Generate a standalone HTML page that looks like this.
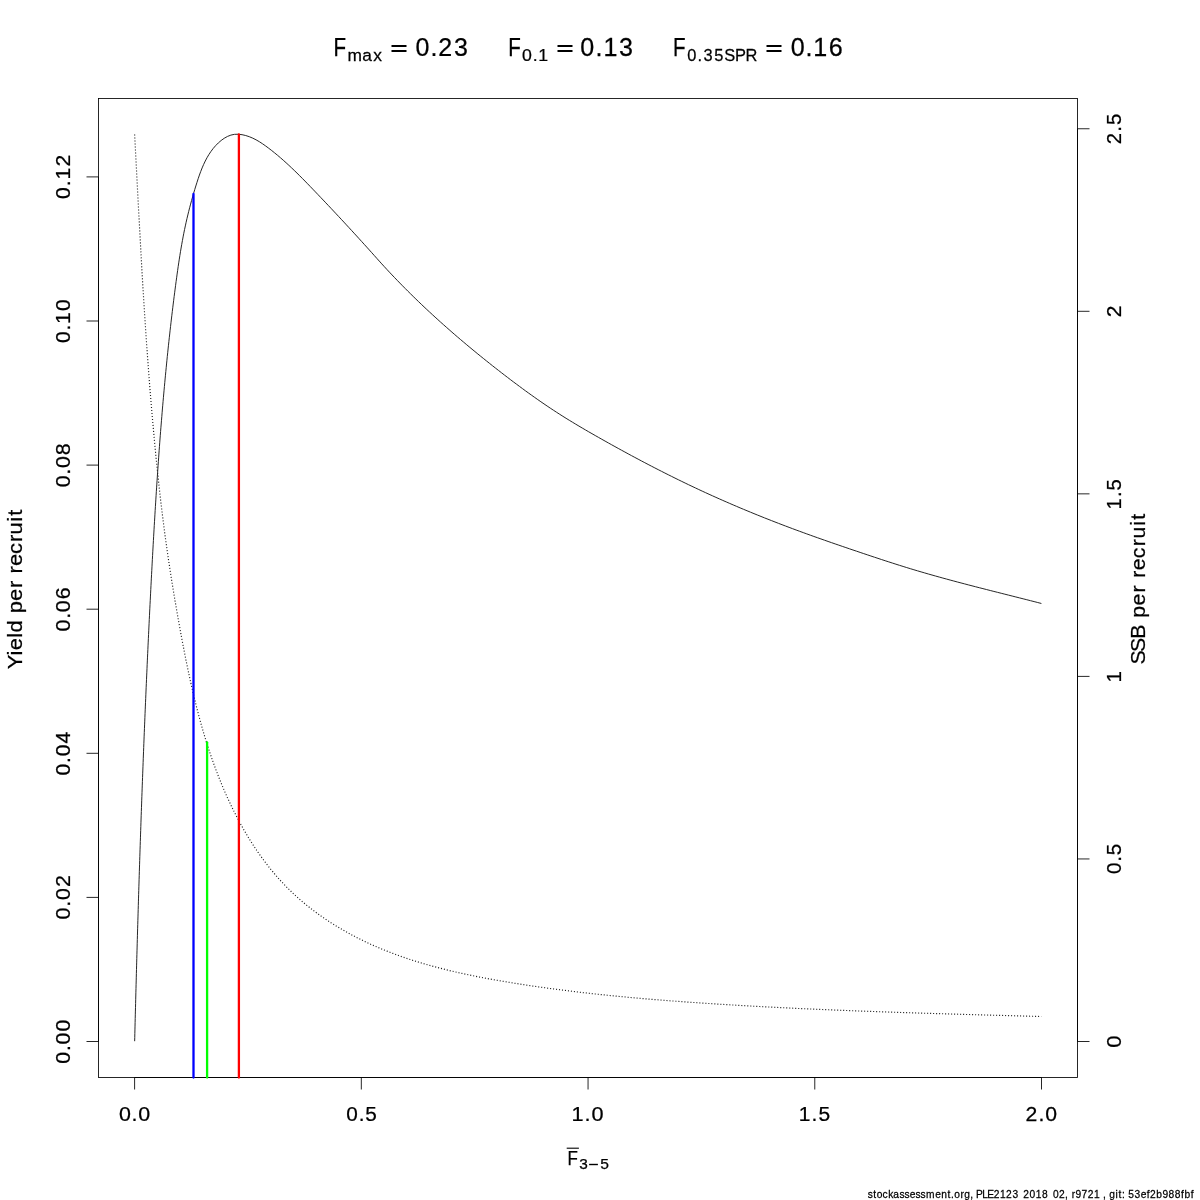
<!DOCTYPE html>
<html><head><meta charset="utf-8"><style>
html,body{margin:0;padding:0;background:#fff;overflow:hidden;}
svg{display:block;will-change:transform;}
text{font-family:"Liberation Sans", sans-serif;fill:#000;font-kerning:none;stroke:#000;stroke-width:0.25px;}
</style></head><body>
<svg width="1200" height="1200" viewBox="0 0 1200 1200">
<rect x="0" y="0" width="1200" height="1200" fill="#fff"/>
<rect x="98.5" y="98.5" width="979" height="979" fill="none" stroke="#000" stroke-width="0.85"/>
<line x1="134.60" y1="1077.5" x2="1041.50" y2="1077.5" stroke="#000" stroke-width="0.85"/>
<line x1="98.5" y1="1041.50" x2="98.5" y2="176.90" stroke="#000" stroke-width="0.85"/>
<line x1="1077.5" y1="1041.50" x2="1077.5" y2="128.75" stroke="#000" stroke-width="0.85"/>
<line x1="134.60" y1="1077.5" x2="134.60" y2="1089.5" stroke="#000" stroke-width="0.85"/>
<line x1="361.32" y1="1077.5" x2="361.32" y2="1089.5" stroke="#000" stroke-width="0.85"/>
<line x1="588.05" y1="1077.5" x2="588.05" y2="1089.5" stroke="#000" stroke-width="0.85"/>
<line x1="814.77" y1="1077.5" x2="814.77" y2="1089.5" stroke="#000" stroke-width="0.85"/>
<line x1="1041.50" y1="1077.5" x2="1041.50" y2="1089.5" stroke="#000" stroke-width="0.85"/>
<line x1="86.5" y1="1041.50" x2="98.5" y2="1041.50" stroke="#000" stroke-width="0.85"/>
<line x1="86.5" y1="897.40" x2="98.5" y2="897.40" stroke="#000" stroke-width="0.85"/>
<line x1="86.5" y1="753.30" x2="98.5" y2="753.30" stroke="#000" stroke-width="0.85"/>
<line x1="86.5" y1="609.20" x2="98.5" y2="609.20" stroke="#000" stroke-width="0.85"/>
<line x1="86.5" y1="465.10" x2="98.5" y2="465.10" stroke="#000" stroke-width="0.85"/>
<line x1="86.5" y1="321.00" x2="98.5" y2="321.00" stroke="#000" stroke-width="0.85"/>
<line x1="86.5" y1="176.90" x2="98.5" y2="176.90" stroke="#000" stroke-width="0.85"/>
<line x1="1077.5" y1="1041.50" x2="1089.5" y2="1041.50" stroke="#000" stroke-width="0.85"/>
<line x1="1077.5" y1="858.95" x2="1089.5" y2="858.95" stroke="#000" stroke-width="0.85"/>
<line x1="1077.5" y1="676.40" x2="1089.5" y2="676.40" stroke="#000" stroke-width="0.85"/>
<line x1="1077.5" y1="493.85" x2="1089.5" y2="493.85" stroke="#000" stroke-width="0.85"/>
<line x1="1077.5" y1="311.30" x2="1089.5" y2="311.30" stroke="#000" stroke-width="0.85"/>
<line x1="1077.5" y1="128.75" x2="1089.5" y2="128.75" stroke="#000" stroke-width="0.85"/>
<path d="M134.65,1041.20 L134.75,1037.43 L134.84,1033.67 L134.93,1029.90 L135.03,1026.13 L135.12,1022.37 L135.21,1018.60 L135.31,1014.84 L135.40,1011.07 L135.50,1007.31 L135.60,1003.54 L135.69,999.78 L135.79,996.01 L135.89,992.24 L135.99,988.48 L136.09,984.71 L136.19,980.95 L136.29,977.18 L136.39,973.42 L136.49,969.65 L136.59,965.89 L136.69,962.12 L136.79,958.35 L136.90,954.59 L137.00,950.82 L137.11,947.06 L137.21,943.29 L137.32,939.52 L137.43,935.76 L137.53,931.99 L137.64,928.23 L137.75,924.46 L137.86,920.70 L137.97,916.93 L138.08,913.16 L138.19,909.40 L138.30,905.63 L138.41,901.87 L138.53,898.10 L138.64,894.33 L138.75,890.57 L138.87,886.80 L138.99,883.04 L139.10,879.27 L139.22,875.51 L139.34,871.74 L139.46,867.97 L139.58,864.21 L139.70,860.44 L139.82,856.68 L139.94,852.91 L140.06,849.15 L140.19,845.38 L140.31,841.61 L140.44,837.85 L140.56,834.08 L140.69,830.32 L140.82,826.55 L140.94,822.79 L141.07,819.02 L141.20,815.26 L141.34,811.49 L141.47,807.73 L141.60,803.96 L141.73,800.19 L141.87,796.43 L142.00,792.66 L142.14,788.90 L142.28,785.13 L142.41,781.37 L142.55,777.60 L142.69,773.84 L142.83,770.07 L142.97,766.31 L143.12,762.54 L143.26,758.78 L143.40,755.01 L143.55,751.25 L143.70,747.48 L143.84,743.72 L143.99,739.95 L144.14,736.19 L144.29,732.42 L144.44,728.66 L144.59,724.90 L144.75,721.13 L144.90,717.37 L145.06,713.60 L145.21,709.84 L145.37,706.07 L145.53,702.31 L145.69,698.54 L145.85,694.78 L146.01,691.02 L146.17,687.25 L146.33,683.49 L146.50,679.72 L146.66,675.96 L146.83,672.20 L147.00,668.43 L147.17,664.67 L147.34,660.91 L147.51,657.14 L147.68,653.38 L147.86,649.62 L148.03,645.85 L148.21,642.09 L148.38,638.33 L148.56,634.56 L148.74,630.80 L148.92,627.04 L149.10,623.27 L149.28,619.51 L149.47,615.75 L149.65,611.99 L149.84,608.22 L150.03,604.46 L150.22,600.70 L150.41,596.94 L150.60,593.17 L150.79,589.41 L150.98,585.65 L151.18,581.89 L151.37,578.13 L151.57,574.36 L151.77,570.60 L151.97,566.84 L152.17,563.08 L152.37,559.32 L152.58,555.56 L152.78,551.79 L152.99,548.03 L153.20,544.27 L153.41,540.51 L153.62,536.75 L153.84,532.99 L154.06,529.23 L154.27,525.47 L154.49,521.71 L154.72,517.95 L154.94,514.19 L155.17,510.43 L155.40,506.67 L155.63,502.91 L155.87,499.15 L156.10,495.39 L156.34,491.63 L156.58,487.87 L156.83,484.11 L157.08,480.36 L157.33,476.60 L157.58,472.84 L157.84,469.08 L158.10,465.33 L158.36,461.57 L158.63,457.81 L158.90,454.05 L159.17,450.30 L159.45,446.54 L159.73,442.78 L160.01,439.03 L160.30,435.27 L160.59,431.52 L160.89,427.76 L161.19,424.01 L161.49,420.25 L161.80,416.50 L162.11,412.74 L162.42,408.99 L162.74,405.24 L163.07,401.48 L163.40,397.73 L163.73,393.98 L164.07,390.23 L164.41,386.47 L164.75,382.72 L165.10,378.97 L165.46,375.22 L165.82,371.47 L166.19,367.72 L166.56,363.97 L166.93,360.22 L167.31,356.47 L167.70,352.72 L168.09,348.97 L168.48,345.23 L168.89,341.48 L169.29,337.73 L169.71,333.98 L170.12,330.24 L170.55,326.49 L170.98,322.74 L171.41,319.00 L171.85,315.25 L172.30,311.51 L172.76,307.76 L173.21,304.02 L173.68,300.28 L174.15,296.53 L174.63,292.79 L175.11,289.05 L175.60,285.31 L176.10,281.57 L176.61,277.82 L177.12,274.09 L177.65,270.35 L178.18,266.62 L178.73,262.88 L179.30,259.16 L179.88,255.44 L180.48,251.72 L181.10,248.01 L181.74,244.31 L182.41,240.61 L183.10,236.92 L183.81,233.24 L184.56,229.57 L185.33,225.91 L186.13,222.26 L186.96,218.62 L187.83,214.98 L188.72,211.35 L189.64,207.73 L190.60,204.10 L191.59,200.48 L192.60,196.86 L193.65,193.23 L194.73,189.60 L195.84,185.97 L196.99,182.33 L198.17,178.69 L199.41,175.06 L200.73,171.48 L202.13,167.93 L203.63,164.45 L205.26,161.04 L207.01,157.72 L208.91,154.51 L210.97,151.41 L213.21,148.45 L215.64,145.63 L218.28,142.98 L221.13,140.50 L224.20,138.29 L227.47,136.45 L230.92,135.09 L234.53,134.34 L238.26,134.24 L242.02,134.68 L245.71,135.53 L249.28,136.70 L252.74,138.15 L256.10,139.84 L259.36,141.73 L262.55,143.79 L265.66,145.97 L268.71,148.24 L271.72,150.56 L274.67,152.92 L277.59,155.32 L280.46,157.76 L283.29,160.24 L286.09,162.75 L288.85,165.29 L291.59,167.86 L294.30,170.46 L296.99,173.08 L299.66,175.72 L302.30,178.38 L304.94,181.05 L307.56,183.74 L310.18,186.44 L312.78,189.15 L315.39,191.87 L317.99,194.60 L320.59,197.32 L323.19,200.06 L325.79,202.80 L328.38,205.54 L330.97,208.29 L333.55,211.04 L336.14,213.80 L338.71,216.56 L341.29,219.32 L343.86,222.09 L346.42,224.86 L348.98,227.64 L351.54,230.42 L354.09,233.20 L356.64,235.98 L359.17,238.76 L361.71,241.55 L364.23,244.34 L366.75,247.13 L369.27,249.92 L371.77,252.71 L374.27,255.50 L376.77,258.30 L379.27,261.09 L381.78,263.87 L384.31,266.64 L386.87,269.41 L389.43,272.17 L392.02,274.91 L394.62,277.64 L397.24,280.36 L399.86,283.07 L402.50,285.77 L405.16,288.45 L407.82,291.12 L410.50,293.77 L413.18,296.41 L415.88,299.04 L418.59,301.66 L421.31,304.27 L424.04,306.86 L426.78,309.44 L429.54,312.00 L432.30,314.56 L435.07,317.10 L437.86,319.64 L440.65,322.16 L443.46,324.67 L446.27,327.17 L449.10,329.65 L451.93,332.13 L454.77,334.60 L457.62,337.05 L460.49,339.50 L463.36,341.93 L466.24,344.36 L469.12,346.77 L472.02,349.18 L474.93,351.57 L477.84,353.96 L480.76,356.33 L483.69,358.70 L486.63,361.06 L489.58,363.41 L492.53,365.75 L495.49,368.08 L498.46,370.40 L501.44,372.71 L504.42,375.02 L507.41,377.32 L510.41,379.60 L513.42,381.88 L516.44,384.14 L519.46,386.39 L522.50,388.63 L525.54,390.86 L528.59,393.07 L531.66,395.27 L534.73,397.45 L537.81,399.62 L540.91,401.77 L544.01,403.90 L547.13,406.02 L550.26,408.12 L553.40,410.19 L556.56,412.25 L559.72,414.29 L562.90,416.30 L566.09,418.30 L569.29,420.27 L572.51,422.23 L575.73,424.17 L578.96,426.10 L582.21,428.01 L585.46,429.91 L588.71,431.80 L591.98,433.67 L595.25,435.54 L598.52,437.40 L601.80,439.25 L605.08,441.10 L608.37,442.94 L611.66,444.77 L614.95,446.60 L618.25,448.42 L621.55,450.23 L624.86,452.03 L628.17,453.83 L631.49,455.62 L634.81,457.40 L638.14,459.17 L641.46,460.94 L644.80,462.69 L648.14,464.44 L651.48,466.18 L654.83,467.91 L658.18,469.63 L661.54,471.34 L664.90,473.05 L668.26,474.74 L671.63,476.42 L675.01,478.10 L678.39,479.76 L681.78,481.41 L685.17,483.05 L688.56,484.69 L691.96,486.31 L695.37,487.92 L698.78,489.52 L702.20,491.11 L705.62,492.68 L709.04,494.25 L712.47,495.81 L715.91,497.35 L719.35,498.88 L722.80,500.41 L726.25,501.92 L729.70,503.42 L733.16,504.91 L736.62,506.39 L740.09,507.86 L743.57,509.32 L747.04,510.76 L750.53,512.20 L754.01,513.63 L757.50,515.05 L761.00,516.46 L764.49,517.86 L768.00,519.24 L771.50,520.62 L775.01,521.99 L778.52,523.35 L782.04,524.70 L785.56,526.04 L789.09,527.37 L792.61,528.69 L796.14,530.01 L799.68,531.31 L803.22,532.60 L806.76,533.89 L810.30,535.17 L813.85,536.44 L817.40,537.70 L820.95,538.95 L824.50,540.20 L828.06,541.44 L831.62,542.68 L835.18,543.91 L838.74,545.14 L842.31,546.36 L845.87,547.57 L849.44,548.79 L853.01,550.00 L856.58,551.20 L860.15,552.41 L863.72,553.61 L867.29,554.80 L870.86,556.00 L874.44,557.19 L878.01,558.37 L881.59,559.55 L885.17,560.72 L888.75,561.89 L892.34,563.04 L895.93,564.19 L899.52,565.33 L903.11,566.45 L906.71,567.57 L910.31,568.67 L913.92,569.76 L917.53,570.83 L921.14,571.90 L924.76,572.95 L928.37,574.00 L932.00,575.03 L935.62,576.05 L939.25,577.06 L942.88,578.07 L946.52,579.06 L950.15,580.05 L953.79,581.03 L957.43,582.00 L961.07,582.96 L964.72,583.92 L968.36,584.88 L972.01,585.82 L975.66,586.77 L979.31,587.71 L982.96,588.64 L986.61,589.57 L990.26,590.50 L993.92,591.43 L997.57,592.35 L1001.22,593.27 L1004.87,594.20 L1008.53,595.12 L1012.18,596.04 L1015.83,596.96 L1019.49,597.88 L1023.14,598.81 L1026.79,599.73 L1030.44,600.66 L1034.09,601.59 L1037.73,602.53 L1041.38,603.47" fill="none" stroke="#1a1a1a" stroke-width="0.95" stroke-linejoin="round"/>
<path d="M134.64,134.52 L134.80,137.64 L134.97,140.76 L135.13,143.88 L135.29,147.00 L135.46,150.12 L135.62,153.24 L135.78,156.36 L135.95,159.48 L136.11,162.60 L136.27,165.72 L136.44,168.84 L136.60,171.96 L136.76,175.09 L136.93,178.21 L137.09,181.33 L137.25,184.45 L137.42,187.57 L137.58,190.69 L137.74,193.81 L137.91,196.94 L138.07,200.06 L138.24,203.18 L138.40,206.30 L138.57,209.42 L138.74,212.55 L138.90,215.67 L139.07,218.79 L139.24,221.91 L139.41,225.03 L139.58,228.16 L139.75,231.28 L139.92,234.40 L140.09,237.52 L140.26,240.65 L140.44,243.77 L140.61,246.89 L140.78,250.01 L140.96,253.14 L141.14,256.26 L141.31,259.38 L141.49,262.50 L141.67,265.63 L141.85,268.75 L142.03,271.87 L142.22,274.99 L142.40,278.11 L142.59,281.24 L142.77,284.36 L142.96,287.48 L143.15,290.60 L143.34,293.72 L143.53,296.85 L143.72,299.97 L143.92,303.09 L144.12,306.21 L144.31,309.33 L144.51,312.45 L144.71,315.58 L144.92,318.70 L145.12,321.82 L145.32,324.94 L145.53,328.06 L145.74,331.18 L145.95,334.30 L146.16,337.42 L146.38,340.54 L146.59,343.66 L146.81,346.78 L147.03,349.90 L147.26,353.02 L147.48,356.14 L147.71,359.26 L147.93,362.38 L148.16,365.50 L148.40,368.62 L148.63,371.74 L148.87,374.86 L149.11,377.97 L149.35,381.09 L149.59,384.21 L149.84,387.33 L150.09,390.45 L150.34,393.56 L150.59,396.68 L150.85,399.80 L151.10,402.91 L151.36,406.03 L151.63,409.15 L151.89,412.26 L152.16,415.38 L152.43,418.50 L152.71,421.61 L152.98,424.73 L153.26,427.84 L153.54,430.96 L153.83,434.07 L154.12,437.18 L154.41,440.30 L154.70,443.41 L155.00,446.52 L155.30,449.64 L155.60,452.75 L155.91,455.86 L156.21,458.97 L156.53,462.09 L156.84,465.20 L157.16,468.31 L157.48,471.42 L157.81,474.53 L158.14,477.64 L158.47,480.74 L158.81,483.85 L159.15,486.96 L159.50,490.07 L159.85,493.17 L160.20,496.28 L160.56,499.38 L160.92,502.49 L161.29,505.59 L161.66,508.69 L162.03,511.79 L162.41,514.90 L162.80,517.99 L163.19,521.09 L163.59,524.19 L163.99,527.29 L164.39,530.38 L164.80,533.48 L165.22,536.57 L165.64,539.67 L166.06,542.76 L166.50,545.85 L166.93,548.94 L167.38,552.02 L167.82,555.11 L168.28,558.20 L168.73,561.28 L169.20,564.37 L169.67,567.45 L170.14,570.54 L170.62,573.62 L171.10,576.70 L171.59,579.78 L172.08,582.86 L172.58,585.94 L173.08,589.02 L173.59,592.10 L174.10,595.18 L174.62,598.26 L175.14,601.34 L175.67,604.42 L176.20,607.50 L176.73,610.57 L177.27,613.65 L177.82,616.73 L178.36,619.81 L178.92,622.89 L179.47,625.96 L180.04,629.04 L180.60,632.12 L181.17,635.20 L181.74,638.28 L182.32,641.36 L182.91,644.44 L183.50,647.51 L184.10,650.59 L184.70,653.67 L185.31,656.74 L185.92,659.82 L186.55,662.89 L187.18,665.96 L187.82,669.03 L188.47,672.10 L189.12,675.17 L189.79,678.23 L190.46,681.29 L191.14,684.35 L191.84,687.41 L192.54,690.46 L193.25,693.52 L193.98,696.56 L194.71,699.61 L195.46,702.65 L196.22,705.69 L196.99,708.73 L197.78,711.76 L198.57,714.79 L199.38,717.81 L200.20,720.83 L201.04,723.85 L201.89,726.86 L202.76,729.87 L203.63,732.87 L204.53,735.87 L205.44,738.86 L206.36,741.85 L207.30,744.83 L208.26,747.80 L209.24,750.77 L210.23,753.74 L211.23,756.70 L212.26,759.65 L213.30,762.60 L214.36,765.54 L215.44,768.47 L216.54,771.39 L217.66,774.31 L218.80,777.23 L219.96,780.13 L221.13,783.03 L222.33,785.92 L223.55,788.80 L224.79,791.68 L226.05,794.55 L227.33,797.40 L228.64,800.25 L229.96,803.10 L231.31,805.93 L232.68,808.75 L234.08,811.56 L235.50,814.36 L236.94,817.15 L238.40,819.93 L239.89,822.69 L241.40,825.44 L242.94,828.18 L244.50,830.90 L246.08,833.60 L247.69,836.29 L249.33,838.97 L250.99,841.62 L252.67,844.26 L254.38,846.88 L256.12,849.48 L257.88,852.06 L259.67,854.62 L261.49,857.16 L263.33,859.68 L265.20,862.17 L267.09,864.65 L269.01,867.10 L270.96,869.52 L272.94,871.93 L274.95,874.30 L276.98,876.65 L279.04,878.98 L281.13,881.28 L283.25,883.55 L285.40,885.79 L287.58,888.01 L289.78,890.19 L292.02,892.35 L294.28,894.47 L296.58,896.57 L298.90,898.63 L301.24,900.67 L303.61,902.68 L306.01,904.66 L308.44,906.61 L310.88,908.54 L313.35,910.43 L315.85,912.30 L318.37,914.13 L320.91,915.94 L323.47,917.72 L326.05,919.48 L328.65,921.20 L331.28,922.90 L333.92,924.57 L336.58,926.21 L339.26,927.82 L341.95,929.41 L344.67,930.96 L347.40,932.50 L350.14,934.00 L352.90,935.48 L355.68,936.93 L358.47,938.35 L361.27,939.75 L364.08,941.12 L366.91,942.46 L369.75,943.78 L372.60,945.07 L375.46,946.33 L378.33,947.57 L381.21,948.78 L384.10,949.97 L387.00,951.13 L389.91,952.27 L392.83,953.38 L395.76,954.48 L398.69,955.54 L401.64,956.59 L404.59,957.61 L407.55,958.62 L410.52,959.60 L413.50,960.56 L416.48,961.49 L419.47,962.41 L422.47,963.31 L425.47,964.19 L428.48,965.05 L431.50,965.90 L434.52,966.72 L437.54,967.53 L440.58,968.32 L443.62,969.09 L446.66,969.85 L449.71,970.59 L452.76,971.31 L455.82,972.02 L458.88,972.72 L461.94,973.40 L465.01,974.07 L468.08,974.72 L471.16,975.36 L474.24,975.99 L477.32,976.61 L480.40,977.21 L483.49,977.80 L486.58,978.39 L489.66,978.96 L492.76,979.52 L495.85,980.07 L498.94,980.61 L502.04,981.15 L505.13,981.67 L508.23,982.19 L511.32,982.70 L514.42,983.20 L517.52,983.69 L520.61,984.18 L523.71,984.66 L526.81,985.14 L529.90,985.60 L533.00,986.06 L536.10,986.52 L539.20,986.96 L542.29,987.40 L545.39,987.83 L548.49,988.26 L551.59,988.68 L554.69,989.10 L557.79,989.50 L560.88,989.91 L563.98,990.30 L567.08,990.69 L570.18,991.08 L573.28,991.45 L576.38,991.83 L579.48,992.19 L582.58,992.55 L585.68,992.91 L588.78,993.26 L591.89,993.61 L594.99,993.95 L598.09,994.28 L601.19,994.61 L604.29,994.93 L607.40,995.25 L610.50,995.57 L613.60,995.88 L616.71,996.19 L619.81,996.49 L622.92,996.78 L626.02,997.08 L629.13,997.36 L632.23,997.65 L635.34,997.93 L638.44,998.20 L641.55,998.47 L644.66,998.74 L647.77,999.00 L650.87,999.26 L653.98,999.52 L657.09,999.77 L660.20,1000.02 L663.31,1000.27 L666.42,1000.51 L669.53,1000.75 L672.64,1000.98 L675.75,1001.21 L678.86,1001.44 L681.98,1001.67 L685.09,1001.89 L688.20,1002.12 L691.32,1002.33 L694.43,1002.55 L697.55,1002.76 L700.66,1002.97 L703.78,1003.18 L706.89,1003.39 L710.01,1003.59 L713.13,1003.79 L716.25,1003.99 L719.36,1004.19 L722.48,1004.38 L725.60,1004.57 L728.72,1004.76 L731.84,1004.95 L734.96,1005.13 L738.08,1005.32 L741.20,1005.50 L744.33,1005.68 L747.45,1005.85 L750.57,1006.03 L753.69,1006.20 L756.82,1006.37 L759.94,1006.54 L763.06,1006.71 L766.19,1006.87 L769.31,1007.04 L772.44,1007.20 L775.56,1007.36 L778.69,1007.51 L781.81,1007.67 L784.94,1007.82 L788.06,1007.97 L791.19,1008.12 L794.32,1008.27 L797.44,1008.42 L800.57,1008.57 L803.70,1008.71 L806.82,1008.85 L809.95,1008.99 L813.08,1009.13 L816.21,1009.27 L819.34,1009.40 L822.46,1009.54 L825.59,1009.67 L828.72,1009.80 L831.85,1009.93 L834.98,1010.06 L838.11,1010.18 L841.24,1010.31 L844.37,1010.43 L847.49,1010.56 L850.62,1010.68 L853.75,1010.80 L856.88,1010.92 L860.01,1011.03 L863.14,1011.15 L866.27,1011.26 L869.40,1011.38 L872.53,1011.49 L875.66,1011.60 L878.79,1011.71 L881.92,1011.82 L885.05,1011.93 L888.17,1012.04 L891.30,1012.14 L894.43,1012.25 L897.56,1012.35 L900.69,1012.46 L903.82,1012.56 L906.95,1012.66 L910.08,1012.76 L913.21,1012.86 L916.33,1012.96 L919.46,1013.06 L922.59,1013.16 L925.72,1013.26 L928.84,1013.35 L931.97,1013.45 L935.10,1013.54 L938.23,1013.64 L941.35,1013.73 L944.48,1013.82 L947.61,1013.91 L950.73,1014.01 L953.86,1014.10 L956.98,1014.19 L960.11,1014.28 L963.23,1014.37 L966.36,1014.46 L969.48,1014.54 L972.61,1014.63 L975.73,1014.72 L978.85,1014.81 L981.98,1014.90 L985.10,1014.98 L988.22,1015.07 L991.34,1015.16 L994.47,1015.24 L997.59,1015.33 L1000.71,1015.41 L1003.83,1015.50 L1006.95,1015.58 L1010.07,1015.67 L1013.19,1015.75 L1016.31,1015.84 L1019.42,1015.92 L1022.54,1016.01 L1025.66,1016.09 L1028.78,1016.18 L1031.89,1016.26 L1035.01,1016.35 L1038.12,1016.43 L1041.24,1016.52" fill="none" stroke="#1e1e1e" stroke-width="1.15" stroke-dasharray="1.05 1.95"/>
<line x1="193.5" y1="194.0" x2="193.5" y2="1077.5" stroke="#0000ff" stroke-width="2.3" stroke-linecap="round"/>
<line x1="207.1" y1="742.3" x2="207.1" y2="1077.5" stroke="#00ff00" stroke-width="2.3" stroke-linecap="round"/>
<line x1="238.9" y1="134.3" x2="238.9" y2="1077.5" stroke="#ff0000" stroke-width="2.3" stroke-linecap="round"/>
<text transform="translate(0,1121.00) scale(1.0215,1)" x="116.44 128.84 135.40" y="0" font-size="21.0">0.0</text>
<text transform="translate(0,1121.00) scale(0.9897,1)" x="349.75 362.39 369.12" y="0" font-size="21.0">0.5</text>
<text transform="translate(0,1121.00) scale(1.0331,1)" x="553.14 565.82 572.57" y="0" font-size="21.0">1.0</text>
<text transform="translate(0,1121.00) scale(0.9995,1)" x="799.05 812.00 818.94" y="0" font-size="21.0">1.5</text>
<text transform="translate(0,1121.00) scale(1.0104,1)" x="1015.00 1027.82 1034.54" y="0" font-size="21.0">2.0</text>
<text transform="translate(70.00,0) rotate(-90) scale(1.0156,1)" x="-1047.39 -1034.98 -1028.41 -1015.76" y="0" font-size="21.0">0.00</text>
<text transform="translate(70.00,0) rotate(-90) scale(1.0209,1)" x="-900.67 -888.16 -881.49 -868.96" y="0" font-size="21.0">0.02</text>
<text transform="translate(70.00,0) rotate(-90) scale(1.0106,1)" x="-767.33 -754.93 -748.36 -735.70" y="0" font-size="21.0">0.04</text>
<text transform="translate(70.00,0) rotate(-90) scale(1.0247,1)" x="-616.22 -603.91 -597.44 -584.92" y="0" font-size="21.0">0.06</text>
<text transform="translate(70.00,0) rotate(-90) scale(1.0199,1)" x="-477.80 -465.42 -458.88 -446.27" y="0" font-size="21.0">0.08</text>
<text transform="translate(70.00,0) rotate(-90) scale(1.0024,1)" x="-342.30 -329.77 -323.18 -310.26" y="0" font-size="21.0">0.10</text>
<text transform="translate(70.00,0) rotate(-90) scale(1.0070,1)" x="-197.58 -184.94 -178.23 -165.43" y="0" font-size="21.0">0.12</text>
<text transform="translate(1121.00,0) rotate(-90)" x="-1047.81" y="0" font-size="21.0" textLength="12.22" lengthAdjust="spacingAndGlyphs">0</text>
<text transform="translate(1121.00,0) rotate(-90) scale(0.9760,1)" x="-895.62 -882.97 -876.24" y="0" font-size="21.0">0.5</text>
<text transform="translate(1121.00,0) rotate(-90)" x="-682.62" y="0" font-size="21.0" textLength="11.48" lengthAdjust="spacingAndGlyphs">1</text>
<text transform="translate(1121.00,0) rotate(-90) scale(0.9616,1)" x="-529.88 -516.93 -509.99" y="0" font-size="21.0">1.5</text>
<text transform="translate(1121.00,0) rotate(-90)" x="-317.36" y="0" font-size="21.0" textLength="11.72" lengthAdjust="spacingAndGlyphs">2</text>
<text transform="translate(1121.00,0) rotate(-90) scale(0.9644,1)" x="-149.58 -136.49 -129.59" y="0" font-size="21.0">2.5</text>
<text transform="translate(21.70,0) rotate(-90) scale(1.0442,1)" x="-640.87 -627.73 -622.71 -610.74 -605.66 -593.57 -587.31 -575.48 -563.07 -555.89 -549.19 -542.06 -530.65 -519.18 -511.95 -499.72 -493.99" y="0" font-size="21.0">Yield per recruit</text>
<text transform="translate(1145.00,0) rotate(-90) scale(1.0130,1)" x="-656.09 -643.53 -630.61 -616.55 -609.93 -597.64 -584.81 -577.39 -570.39 -562.91 -551.07 -539.20 -531.62 -519.05 -513.07" y="0" font-size="21.0">SSB per recruit</text>
<text x="567.51" y="1164.90" font-size="21.0" textLength="10.37" lengthAdjust="spacingAndGlyphs">F</text>
<line x1="566.7" y1="1148.2" x2="578.9" y2="1148.2" stroke="#000" stroke-width="1.1"/>
<text x="579.21" y="1169.10" font-size="14.7" textLength="8.56" lengthAdjust="spacingAndGlyphs">3</text>
<rect x="589.1" y="1163.8" width="8.8" height="1.4"/>
<text x="600.18" y="1169.10" font-size="14.7" textLength="8.68" lengthAdjust="spacingAndGlyphs">5</text>
<text x="333.56" y="55.80" font-size="25.4" textLength="12.56" lengthAdjust="spacingAndGlyphs">F</text>
<text transform="translate(0,60.80) scale(0.9985,1)" x="348.08 362.87 373.85" y="0" font-size="17.4">max</text>
<rect x="391.5" y="45" width="15" height="2"/><rect x="391.5" y="50" width="15" height="2"/>
<text transform="translate(0,55.80) scale(0.9844,1)" x="421.98 437.26 445.15 461.18" y="0" font-size="25.4">0.23</text>
<text x="508.21" y="55.80" font-size="25.4" textLength="12.56" lengthAdjust="spacingAndGlyphs">F</text>
<text transform="translate(0,60.80) scale(1.0190,1)" x="512.38 522.80 528.31" y="0" font-size="17.4">0.1</text>
<rect x="557.5" y="45" width="15" height="2"/><rect x="557.5" y="50" width="15" height="2"/>
<text transform="translate(0,55.80) scale(0.9889,1)" x="586.78 602.09 610.22 626.08" y="0" font-size="25.4">0.13</text>
<text x="673.01" y="55.80" font-size="25.4" textLength="12.56" lengthAdjust="spacingAndGlyphs">F</text>
<text transform="translate(0,60.80) scale(0.9442,1)" x="727.80 738.82 745.02 756.40 767.07 778.45 789.67" y="0" font-size="17.4">0.35SPR</text>
<rect x="766.5" y="45" width="15" height="2"/><rect x="766.5" y="50" width="15" height="2"/>
<text transform="translate(0,55.80) scale(0.9888,1)" x="799.71 814.74 822.58 838.05" y="0" font-size="25.4">0.16</text>
<text transform="translate(0,1197.80) scale(0.9279,1)" x="935.22 941.11 944.86 951.11 957.22 962.66 969.36 974.81 980.38 986.68 992.13 998.06 1007.88 1014.41 1021.25 1024.99 1028.32 1035.09 1039.07 1045.53 1048.96 1051.80 1058.52 1063.87 1071.00 1077.73 1084.30 1091.10 1097.05 1102.82 1109.61 1116.21 1122.91 1128.87 1134.79 1141.30 1147.85 1151.28 1154.98 1158.99 1165.65 1172.19 1178.92 1185.49 1188.71 1192.14 1195.52 1202.19 1205.36 1209.19 1212.61 1216.03 1222.73 1229.28 1235.98 1239.34 1246.18 1252.72 1259.41 1266.06 1272.89 1276.44 1283.20" y="0" font-size="11.0">stockassessment.org, PLE2123 2018 02, r9721 , git: 53ef2b988fbf</text>
</svg>
</body></html>
